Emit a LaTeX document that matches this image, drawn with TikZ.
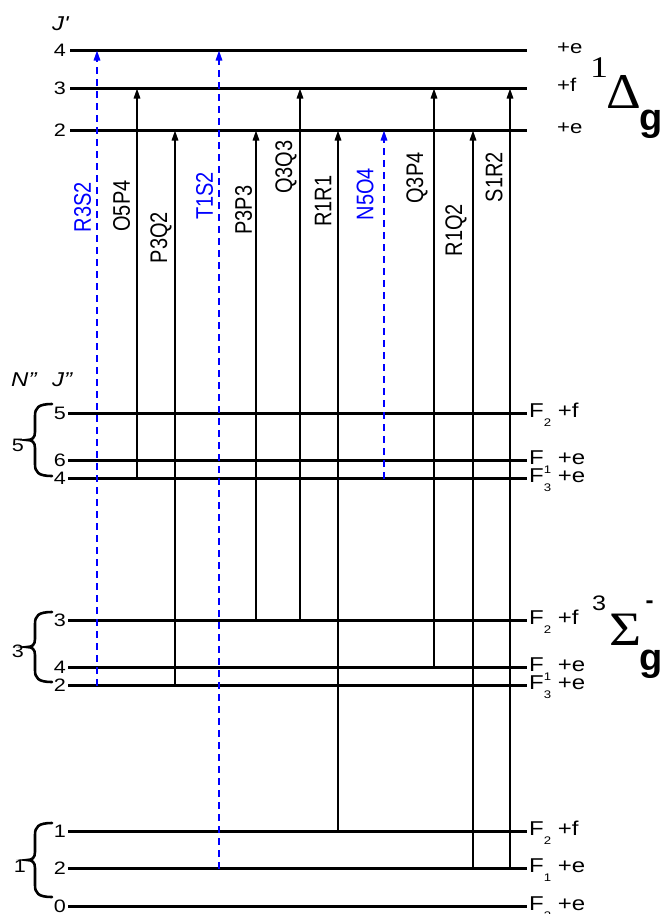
\documentclass[tikz,border=0pt]{standalone}
\usepackage{fontspec}
\setmainfont{Liberation Sans}
\newfontfamily\greekfont{Liberation Serif}
\usetikzlibrary{arrows.meta,positioning}
\newcommand{\Fsub}[1]{\raisebox{-9pt}{\fontsize{11}{11}\selectfont #1}}
\newcommand{\wide}[1]{\scalebox{1.2}[1]{#1}}
\newcommand{\tall}[1]{\scalebox{1}[1.2]{#1}}

\begin{document}
\begin{tikzpicture}[
  x=1pt,y=-1pt,
  lvl/.style={line width=3pt},
  trans/.style={line width=1.6pt,-{Triangle[length=10pt,width=6.5pt]}},
  dtrans/.style={trans,blue,dash pattern=on 7pt off 5pt},
  num/.style={font=\fontsize{18}{18}\selectfont,inner sep=1pt},
  tlab/.style={rotate=90,font=\fontsize{20}{20}\selectfont,inner sep=0pt},
  parity/.style={font=\fontsize{18.5}{18.5}\selectfont,anchor=base west,inner sep=0pt},
  fine/.style={font=\fontsize{20}{20}\selectfont,anchor=base west,inner sep=0pt},
  brace/.style={line width=2.6pt,line cap=round},
  term/.style={anchor=base west,inner sep=0pt}
]
\useasboundingbox (0,0) rectangle (663,914);

% levels
\coordinate (rx) at (527,0);
\coordinate (up4) at (70,50.5);
\coordinate (up3) at (70,88.5);
\coordinate (up2) at (70,130.5);
\coordinate (n5j5) at (68,413.5);
\coordinate (n5j6) at (68,460.5);
\coordinate (n5j4) at (68,478.5);
\coordinate (n3j3) at (68,620.5);
\coordinate (n3j4) at (68,667.5);
\coordinate (n3j2) at (68,685.5);
\coordinate (n1j1) at (68,831.5);
\coordinate (n1j2) at (68,868.5);
\coordinate (n1j0) at (68,906.5);
\foreach \lv in {up4,up3,up2,n5j5,n5j6,n5j4,n3j3,n3j4,n3j2,n1j1,n1j2,n1j0}
  \draw[lvl] (\lv) -- (\lv -| rx);

\node[fine,font=\itshape\fontsize{20}{20}\selectfont] (jup) at (52,30) {\wide{J\textquotesingle}};
\node[num,left=3pt of up4] (kup4) {\wide{4}};
\node[num,left=3pt of up3] (kup3) {\wide{3}};
\node[num,left=3pt of up2] (kup2) {\wide{2}};
\node[fine,font=\itshape\fontsize{20}{20}\selectfont] (nlo) at (11,386) {\wide{N"}};
\node[fine,font=\itshape\fontsize{20}{20}\selectfont] (jlo) at (52,386) {\wide{J"}};
\node[num,left=1pt of n5j5] (k55) {\wide{5}};
\node[num,left=1pt of n5j6] (k56) {\wide{6}};
\node[num,left=1pt of n5j4] (k54) {\wide{4}};
\node[num,left=1pt of n3j3] (k33) {\wide{3}};
\node[num,left=1pt of n3j4] (k34) {\wide{4}};
\node[num,left=1pt of n3j2] (k32) {\wide{2}};
\node[num,left=1pt of n1j1] (k11) {\wide{1}};
\node[num,left=1pt of n1j2] (k12) {\wide{2}};
\node[num,left=1pt of n1j0] (k10) {\wide{0}};

% braces
\draw[brace] (52,404) .. controls +(-14,0) and +(0,-8) .. ++(-17,12) -- ++(0,16)
  .. controls +(0,6) and +(5,0) .. ++(-8,8) .. controls +(5,0) and +(0,-6) .. ++(8,8)
  -- ++(0,16) .. controls +(0,8) and +(-14,0) .. ++(17,12);
\draw[brace] (52,612) .. controls +(-14,0) and +(0,-8) .. ++(-17,12) -- ++(0,15)
  .. controls +(0,6) and +(5,0) .. ++(-8,8) .. controls +(5,0) and +(0,-6) .. ++(8,8)
  -- ++(0,15) .. controls +(0,8) and +(-14,0) .. ++(17,12);
\draw[brace] (52,823) .. controls +(-14,0) and +(0,-8) .. ++(-17,12) -- ++(0,17)
  .. controls +(0,6) and +(5,0) .. ++(-8,8) .. controls +(5,0) and +(0,-6) .. ++(8,8)
  -- ++(0,17) .. controls +(0,8) and +(-14,0) .. ++(17,12);
\node[num] (bn5) at (18,445) {\wide{5}};
\node[num] (bn3) at (18,651) {\wide{3}};
\node[num] (bn1) at (20,866) {\wide{1}};

% parities
\node[parity] (pup4) at (557,53.5) {\wide{+e}};
\node[parity] (pup3) at (557,91.5) {\wide{+f}};
\node[parity] (pup2) at (557,133.5) {\wide{+e}};
\node[fine] (f55) at (529,417.5) {\wide{F\Fsub{2} +f}};
\node[fine] (f56) at (529,464.5) {\wide{F\Fsub{1} +e}};
\node[fine] (f54) at (529,482.5) {\wide{F\Fsub{3} +e}};
\node[fine] (f33) at (529,624.5) {\wide{F\Fsub{2} +f}};
\node[fine] (f34) at (529,671.5) {\wide{F\Fsub{1} +e}};
\node[fine] (f32) at (529,689.5) {\wide{F\Fsub{3} +e}};
\node[fine] (f11) at (529,835.5) {\wide{F\Fsub{2} +f}};
\node[fine] (f12) at (529,872.5) {\wide{F\Fsub{1} +e}};
\node[fine] (f10) at (529,910.5) {\wide{F\Fsub{3} +e}};

% term symbols
\node[term,font=\greekfont\fontsize{30}{30}\selectfont] (dsup) at (590,77) {\wide{1}};
\node[term,font=\greekfont\fontsize{50}{50}\selectfont] (delta) at (606,108) {\scalebox{1.08}[1]{Δ}};
\node[term,font=\bfseries\fontsize{38}{38}\selectfont] (dg) at (639,130) {g};
\node[term,font=\fontsize{21}{21}\selectfont] (ssup) at (592,610) {\wide{3}};
\node[term,font=\greekfont\fontsize{48}{48}\selectfont] (sigma) at (609,645) {\scalebox{1.15}[1]{Σ}};
\node[font=\bfseries\fontsize{24}{24}\selectfont,inner sep=0pt] (sminus) at (649.5,605) {-};
\node[term,font=\bfseries\fontsize{38}{38}\selectfont] (sg) at (639,670) {g};

% transitions
\coordinate (R3S2) at (97,0);
\coordinate (O5P4) at (137,0);
\coordinate (P3Q2) at (175,0);
\coordinate (T1S2) at (219,0);
\coordinate (P3P3) at (256,0);
\coordinate (Q3Q3) at (300,0);
\coordinate (R1R1) at (338,0);
\coordinate (N5O4) at (384,0);
\coordinate (Q3P4) at (434,0);
\coordinate (R1Q2) at (473,0);
\coordinate (S1R2) at (510,0);
\draw[dtrans] (R3S2 |- n3j2) -- (R3S2 |- up4);
\draw[trans] (O5P4 |- n5j4) -- (O5P4 |- up3);
\draw[trans] (P3Q2 |- n3j2) -- (P3Q2 |- up2);
\draw[dtrans] (T1S2 |- n1j2) -- (T1S2 |- up4);
\draw[trans] (P3P3 |- n3j3) -- (P3P3 |- up2);
\draw[trans] (Q3Q3 |- n3j3) -- (Q3Q3 |- up3);
\draw[trans] (R1R1 |- n1j1) -- (R1R1 |- up2);
\draw[dtrans] (N5O4 |- n5j4) -- (N5O4 |- up2);
\draw[trans] (Q3P4 |- n3j4) -- (Q3P4 |- up3);
\draw[trans] (R1Q2 |- n1j2) -- (R1Q2 |- up2);
\draw[trans] (S1R2 |- n1j2) -- (S1R2 |- up3);

\node[tlab,text=blue] (lR3S2) at (82.5,207) {\tall{R3S2}};
\node[tlab] (lO5P4) at (121.5,206) {\tall{O5P4}};
\node[tlab] (lP3Q2) at (161,237.5) {\tall{P3Q2}};
\node[tlab,text=blue] (lT1S2) at (204.5,196) {\tall{T1S2}};
\node[tlab] (lP3P3) at (243.5,210) {\tall{P3P3}};
\node[tlab] (lQ3Q3) at (286,167) {\tall{Q3Q3}};
\node[tlab] (lR1R1) at (323,201) {\tall{R1R1}};
\node[tlab,text=blue] (lN5O4) at (365,194) {\tall{N5O4}};
\node[tlab] (lQ3P4) at (417,178) {\tall{Q3P4}};
\node[tlab] (lR1Q2) at (456,230) {\tall{R1Q2}};
\node[tlab] (lS1R2) at (494,177) {\tall{S1R2}};
\end{tikzpicture}
\end{document}
